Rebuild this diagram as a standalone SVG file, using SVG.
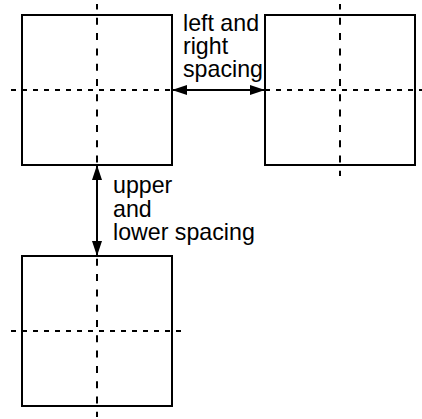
<svg xmlns="http://www.w3.org/2000/svg" width="422" height="419" viewBox="0 0 422 419">
<style>
.box{fill:none;stroke:#000;stroke-width:2}
.h{stroke:#000;stroke-width:2;stroke-dasharray:5 6}
.v{stroke:#000;stroke-width:2;stroke-dasharray:7 8.3;stroke-dashoffset:1.5}
.arr{stroke:#000;stroke-width:2;fill:none;marker-start:url(#ah);marker-end:url(#ah)}
text{font-family:"Liberation Sans",Arial,sans-serif;font-size:23.2px;fill:#000}
</style>
<defs>
<marker id="ah" viewBox="0 0 15 11" refX="15" refY="5.5" markerWidth="15" markerHeight="11" markerUnits="userSpaceOnUse" orient="auto-start-reverse">
<path d="M0,0.5 L15,5.5 L0,10.5 z" fill="#000"/>
</marker>
</defs>
<rect width="422" height="419" fill="#fff"/>
<g id="node-top-left">
<rect class="box" x="22" y="15" width="150" height="150"/>
<line class="h" x1="11" y1="90" x2="183" y2="90"/>
<line class="v" x1="97" y1="4" x2="97" y2="176"/>
</g>
<g id="node-top-right">
<rect class="box" x="265" y="15" width="150" height="150"/>
<line class="h" x1="254" y1="90" x2="426" y2="90"/>
<line class="v" x1="340" y1="4" x2="340" y2="176"/>
</g>
<g id="node-bottom">
<rect class="box" x="22" y="256" width="150" height="150"/>
<line class="h" x1="11" y1="331" x2="183" y2="331"/>
<line class="v" x1="97" y1="245" x2="97" y2="417"/>
</g>
<g id="connectors">
<line class="arr" x1="172" y1="90" x2="265" y2="90"/>
<line class="arr" x1="97" y1="165" x2="97" y2="256"/>
</g>
<g id="labels">
<text x="183" y="30.5">left and</text>
<text x="183" y="53.5">right</text>
<text x="183" y="76.5">spacing</text>
<text x="113" y="193">upper</text>
<text x="113" y="216.5">and</text>
<text x="113" y="240">lower spacing</text>
</g>
</svg>
